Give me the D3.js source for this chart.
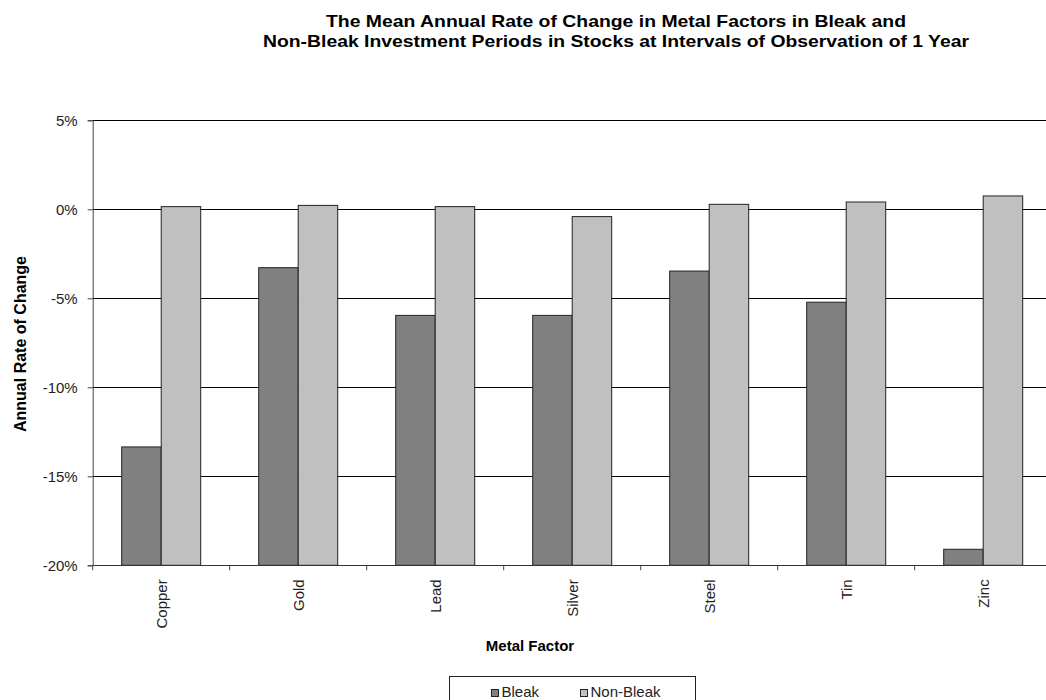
<!DOCTYPE html>
<html>
<head>
<meta charset="utf-8">
<script src="https://cdn.jsdelivr.net/npm/d3@7"></script>
<style>
  html, body { margin: 0; padding: 0; background: #fff; }
  svg { display: block; overflow: hidden; font-family: "Liberation Sans", Arial, sans-serif; }
</style>
</head>
<body>
<svg id="chart" width="1046" height="700"></svg>
<script>
// Metal factors and their mean annual rate of change (%)
const categories = ["Copper", "Gold", "Lead", "Silver", "Steel", "Tin", "Zinc"];
const seriesNames = ["Bleak", "Non-Bleak"];
const bleak    = [-13.35, -3.28, -5.96, -5.96, -3.47, -5.22, -19.10];
const nonBleak = [0.15, 0.22, 0.15, -0.41, 0.28, 0.41, 0.75];
const yTicks = [5, 0, -5, -10, -15, -20];
const colors = ["#808080", "#c0c0c0"];

const svg = d3.select("#chart");
const plot = { left: 92.7, right: 1051.7, top: 120.3, bottom: 565.3 };

const y = d3.scaleLinear().domain([-20, 5]).range([plot.bottom, plot.top]);
const base = y.domain()[0]; // bars rise from the category axis at the minimum

const gapRatio = 58 / 137;
const x0 = d3.scaleBand()
  .domain(categories)
  .range([plot.left, plot.right])
  .paddingInner(gapRatio)
  .paddingOuter(gapRatio / 2);
const x1 = d3.scaleBand().domain(seriesNames).range([0, x0.bandwidth()]).padding(0);

// Title (two lines)
const titleLines = [
  { text: "The Mean Annual Rate of Change in Metal Factors in Bleak and", len: 580, y: 27 },
  { text: "Non-Bleak Investment Periods in Stocks at Intervals of Observation of 1 Year", len: 706, y: 47 }
];
svg.append("g").selectAll("text")
  .data(titleLines)
  .join("text")
  .attr("x", 616).attr("y", d => d.y)
  .attr("text-anchor", "middle")
  .attr("font-size", 17).attr("font-weight", "bold").attr("fill", "#000")
  .attr("textLength", d => d.len).attr("lengthAdjust", "spacingAndGlyphs")
  .text(d => d.text);

// Horizontal gridlines
svg.append("g").selectAll("line")
  .data(yTicks)
  .join("line")
  .attr("x1", plot.left).attr("x2", plot.right)
  .attr("y1", d => Math.round(y(d)) + 0.5).attr("y2", d => Math.round(y(d)) + 0.5)
  .attr("stroke", "#000").attr("stroke-width", 1);

// Bars
const rows = categories.map((c, i) => ({ c, vals: [bleak[i], nonBleak[i]] }));
const groups = svg.append("g").selectAll("g")
  .data(rows)
  .join("g")
  .attr("transform", d => `translate(${x0(d.c)},0)`);
groups.selectAll("rect")
  .data(d => d.vals.map((v, k) => ({ v, s: seriesNames[k], k })))
  .join("rect")
  .attr("x", d => x1(d.s))
  .attr("width", x1.bandwidth())
  .attr("y", d => y(d.v))
  .attr("height", d => y(base) - y(d.v))
  .attr("fill", d => colors[d.k])
  .attr("stroke", "#222").attr("stroke-width", 1);

// Y axis
const yAxis = d3.axisLeft(y).tickValues(yTicks).tickSize(5).tickPadding(10)
  .tickFormat(d => d + "%");
const gy = svg.append("g").attr("transform", `translate(${plot.left},0)`).call(yAxis);
gy.select(".domain").attr("stroke", "#444");
gy.selectAll(".tick line").attr("stroke", "#444");
gy.selectAll("text").attr("font-size", 15).attr("fill", "#222")
  .attr("font-family", "Liberation Sans, Arial, sans-serif");

// X axis: tick marks at category boundaries, labels rotated
const step = x0.step();
const boundaries = d3.range(categories.length + 1).map(i => plot.left + i * step);
svg.append("line")
  .attr("x1", plot.left).attr("x2", plot.right)
  .attr("y1", Math.round(plot.bottom) + 0.5).attr("y2", Math.round(plot.bottom) + 0.5)
  .attr("stroke", "#333");
svg.append("g").selectAll("line")
  .data(boundaries)
  .join("line")
  .attr("x1", d => d).attr("x2", d => d)
  .attr("y1", plot.bottom).attr("y2", plot.bottom + 5)
  .attr("stroke", "#444");
svg.append("g").selectAll("text")
  .data(categories)
  .join("text")
  .attr("transform", d => `translate(${x0(d) + x0.bandwidth() / 2 + 5.5},${plot.bottom + 14}) rotate(-90)`)
  .attr("text-anchor", "end")
  .attr("font-size", 15).attr("fill", "#222")
  .text(d => d);

// Axis titles
svg.append("text")
  .attr("transform", `translate(26,344) rotate(-90)`)
  .attr("text-anchor", "middle")
  .attr("font-size", 16).attr("font-weight", "bold").attr("fill", "#000")
  .text("Annual Rate of Change");
svg.append("text")
  .attr("x", 530).attr("y", 651)
  .attr("text-anchor", "middle")
  .attr("font-size", 15).attr("font-weight", "bold").attr("fill", "#000")
  .text("Metal Factor");

// Legend
const legend = svg.append("g");
legend.append("rect")
  .attr("x", 449.5).attr("y", 676.5).attr("width", 246).attr("height", 40)
  .attr("fill", "#fff").attr("stroke", "#222");
const legendX = [491.5, 580.5];
seriesNames.forEach((s, k) => {
  legend.append("rect")
    .attr("x", legendX[k]).attr("y", 689.5).attr("width", 7).attr("height", 7)
    .attr("fill", colors[k]).attr("stroke", "#222");
  legend.append("text")
    .attr("x", legendX[k] + 10).attr("y", 697)
    .attr("font-size", 15).attr("fill", "#222")
    .text(s);
});
</script>
</body>
</html>
